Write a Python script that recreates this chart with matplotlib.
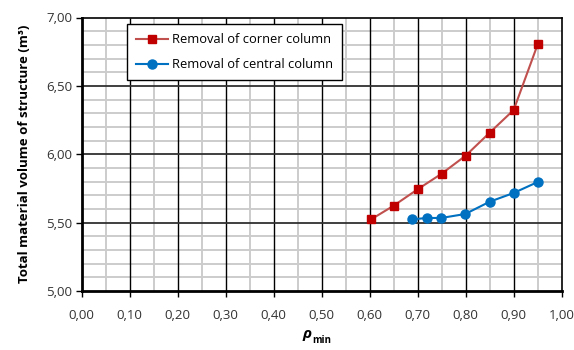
import numpy as np
import matplotlib.pyplot as plt
from matplotlib.ticker import MultipleLocator, FuncFormatter

# Material volume against rho_min for the two column removal cases
rho_corner = [0.603, 0.65, 0.70, 0.75, 0.80, 0.85, 0.90, 0.95]
vol_corner = [5.524, 5.624, 5.744, 5.858, 5.990, 6.158, 6.324, 6.804]

rho_central = [0.689, 0.719, 0.749, 0.799, 0.85, 0.90, 0.95]
vol_central = [5.524, 5.534, 5.534, 5.563, 5.653, 5.717, 5.797]

plt.rcParams['font.family'] = ['Open Sans', 'DejaVu Sans']

fig = plt.figure(figsize=(5.74, 3.5), dpi=100)
ax = fig.add_axes([0.1423, 0.1686, 0.8363, 0.7814])

ax.plot(rho_corner, vol_corner, color='#C0504D', lw=1.5, marker='s', ms=6.2,
        mfc='#C00000', mec='#C00000', label='Removal of corner column', zorder=4)
ax.plot(rho_central, vol_central, color='#0070C0', lw=1.5, marker='o', ms=6.5,
        mfc='#0070C0', mec='#0070C0', label='Removal of central column', zorder=4)

ax.set_xlim(0, 1.0)
ax.set_ylim(5.0, 7.0)
ax.xaxis.set_major_locator(MultipleLocator(0.1))
ax.xaxis.set_minor_locator(MultipleLocator(0.05))
ax.yaxis.set_major_locator(MultipleLocator(0.5))
ax.yaxis.set_minor_locator(MultipleLocator(0.1))
comma = FuncFormatter(lambda v, p: f'{v:.2f}'.replace('.', ','))
ax.xaxis.set_major_formatter(comma)
ax.yaxis.set_major_formatter(comma)

# light minor grid underneath, dark major grid on top of it
ax.grid(which='minor', color='#cccccc', lw=1.4)
ax.set_axisbelow(True)
xmaj = ax.get_xticks()
ymaj = ax.get_yticks()
ax.vlines(xmaj[(xmaj > 0) & (xmaj < 1.0)], 5.0, 7.0, color='black', lw=1.0, zorder=1.5)
ax.hlines(ymaj[(ymaj > 5.0) & (ymaj < 7.0)], 0, 1.0, color='#303030', lw=1.3, zorder=1.5)

ax.tick_params(which='major', direction='out', length=4, width=1, labelsize=9.5,
               colors='black', labelcolor='#333333')
ax.tick_params(axis='x', pad=9)
ax.tick_params(axis='y', pad=3)
ax.tick_params(which='minor', length=0)
for side in ['left', 'bottom']:
    ax.spines[side].set_linewidth(2)
for side in ['top', 'right']:
    ax.spines[side].set_linewidth(1.2)

ax.set_ylabel('Total material volume of structure (m³)', fontsize=9.5,
              fontweight='bold', labelpad=11)

# x label: bold italic rho with "min" subscript
fig.text(0.543, 0.033, 'ρ', fontsize=11, fontweight='bold', style='italic',
         ha='right', va='baseline')
fig.text(0.544, 0.021, 'min', fontsize=7, fontweight='bold',
         ha='left', va='baseline')

leg = ax.legend(loc='upper left', bbox_to_anchor=(0.094, 0.976), fontsize=9.3,
                fancybox=False, edgecolor='black', framealpha=1,
                borderpad=0.7, labelspacing=0.95, handlelength=2.5,
                handletextpad=0.3, borderaxespad=0)
leg.get_frame().set_linewidth(1.0)

plt.savefig('out.png', dpi=100)
